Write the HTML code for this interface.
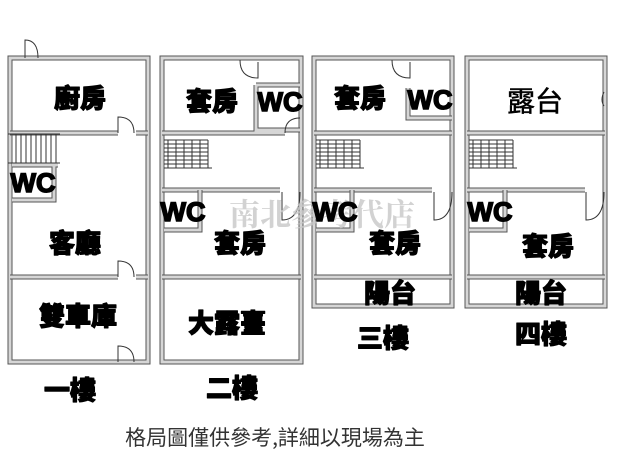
<!DOCTYPE html>
<html><head><meta charset="utf-8"><style>
html,body{margin:0;padding:0;background:#fff;}
svg{display:block;}
.w{fill:none;stroke:#555;stroke-width:5;}
.wi{fill:none;stroke:#d6d6d6;stroke-width:3;}
.t{font-family:"Noto Sans CJK TC","Liberation Sans",sans-serif;font-weight:900;fill:#000;stroke:#000;stroke-width:1.1;stroke-linejoin:round;text-anchor:middle;dominant-baseline:central;}
.wc{font-family:"Liberation Sans",sans-serif;font-weight:bold;fill:#000;stroke:#000;stroke-width:1.5;text-anchor:middle;dominant-baseline:central;font-size:27px;}
.st{stroke:#333;stroke-width:1;}
.d{fill:none;stroke:#333;stroke-width:1;}
</style></head><body>
<svg width="640" height="464" viewBox="0 0 640 464" xmlns="http://www.w3.org/2000/svg">
<g>
<rect class="w" x="10" y="58" width="138" height="304"/><rect class="wi" x="10" y="58" width="138" height="304"/>
<rect class="w" x="162" y="58" width="139" height="304"/><rect class="wi" x="162" y="58" width="139" height="304"/>
<rect class="w" x="314" y="58" width="138" height="248"/><rect class="wi" x="314" y="58" width="138" height="248"/>
<rect class="w" x="467" y="58" width="138" height="248"/><rect class="wi" x="467" y="58" width="138" height="248"/>
</g>
<g>
<path class="w" d="M10 133H118 M136 133H148 M10 277H118 M136 277H148"/>
<path class="wi" d="M10 133H118 M136 133H148 M10 277H118 M136 277H148"/>
<path class="w" d="M12 165H58 M12 200H54V165"/><path class="wi" d="M12 165H58 M12 200H54V165"/>
<path class="w" d="M162 133H285 M162 190H280 M162 277H301 M256 85V130H300 M256 85H300"/>
<path class="wi" d="M162 133H285 M162 190H280 M162 277H301 M256 85V130H300 M256 85H300"/>
<path class="w" d="M164 230H200V190"/><path class="wi" d="M164 230H200V190"/>
<path class="w" d="M314 133H452 M314 190H432 M314 277H452 M408 88V118H452"/>
<path class="wi" d="M314 133H452 M314 190H432 M314 277H452 M408 88V118H452"/>
<path class="w" d="M316 230H352V190"/><path class="wi" d="M316 230H352V190"/>
<path class="w" d="M467 133H605 M467 190H585 M467 277H605"/>
<path class="wi" d="M467 133H605 M467 190H585 M467 277H605"/>
<path class="w" d="M469 230H505V190"/><path class="wi" d="M469 230H505V190"/>
</g>
<path class="d" d="M25 58V40Q38 40 38 58 M118 133V117Q134 117 134 133 M118 277V261Q134 261 134 277 M118 362V346Q134 346 134 362"/>
<path class="d" d="M240 60Q240 78 258 78V62 M285 133Q285 118 300 118 M282 192V220Q300 220 300 192"/>
<path class="d" d="M392 60Q392 78 410 78V62 M434 192V220Q452 220 452 192"/>
<path class="d" d="M586 192V220Q604 220 604 192 M604 92Q600 100 604 106"/>
<g class="st">
<line x1="8" y1="134" x2="60" y2="134"/><line x1="8" y1="163" x2="60" y2="163"/>
<line x1="16" y1="134" x2="16" y2="163"/><line x1="21" y1="134" x2="21" y2="163"/><line x1="26" y1="134" x2="26" y2="163"/><line x1="31" y1="134" x2="31" y2="163"/><line x1="36" y1="134" x2="36" y2="163"/><line x1="41" y1="134" x2="41" y2="163"/><line x1="46" y1="134" x2="46" y2="163"/><line x1="51" y1="134" x2="51" y2="163"/><line x1="56" y1="134" x2="56" y2="163"/>
</g>
<g class="st" id="s2">
<line x1="164" y1="140" x2="208" y2="140"/><line x1="164" y1="144" x2="208" y2="144"/><line x1="164" y1="148" x2="208" y2="148"/><line x1="164" y1="152" x2="208" y2="152"/><line x1="164" y1="156" x2="208" y2="156"/><line x1="164" y1="160" x2="208" y2="160"/><line x1="164" y1="164" x2="208" y2="164"/><line x1="164" y1="168" x2="212" y2="168"/>
<line x1="208" y1="140" x2="208" y2="168"/><line x1="168" y1="140" x2="168" y2="168"/><line x1="176" y1="140" x2="176" y2="168"/><line x1="184" y1="140" x2="184" y2="168"/><line x1="192" y1="140" x2="192" y2="168"/><line x1="200" y1="140" x2="200" y2="168"/>
</g>
<use href="#s2" x="152"/>
<use href="#s2" x="305"/>
<text x="322" y="212" font-family="'Noto Serif CJK SC',serif" font-weight="bold" font-size="31" fill="#c8c8c8" text-anchor="middle" dominant-baseline="central" opacity="0.8">南北參考代店</text>
<text class="t" x="80" y="97" font-size="26">廚房</text>
<text class="wc" x="33" y="183">WC</text>
<text class="t" x="75" y="242" font-size="26">客廳</text>
<text class="t" x="78" y="315" font-size="26">雙車庫</text>
<text class="t" x="70" y="389" font-size="26">一樓</text>
<text class="t" x="212" y="100" font-size="26">套房</text>
<text class="wc" x="280" y="102">WC</text>
<text class="wc" x="183" y="212">WC</text>
<text class="t" x="240" y="242" font-size="26">套房</text>
<text class="t" x="227" y="322" font-size="26">大露臺</text>
<text class="t" x="232" y="387" font-size="26">二樓</text>
<text class="t" x="360" y="97" font-size="26">套房</text>
<text class="wc" x="430" y="100">WC</text>
<text class="wc" x="335" y="212">WC</text>
<text class="t" x="395" y="242" font-size="26">套房</text>
<text class="t" x="390" y="292" font-size="26">陽台</text>
<text class="t" x="383" y="337" font-size="26">三樓</text>
<text x="535" y="100" font-family="'Noto Sans CJK TC','Liberation Sans',sans-serif" font-size="28" text-anchor="middle" dominant-baseline="central" stroke="#000" stroke-width="0.5">露台</text>
<text class="wc" x="490" y="212">WC</text>
<text class="t" x="548" y="245" font-size="26">套房</text>
<text class="t" x="541" y="292" font-size="26">陽台</text>
<text class="t" x="541" y="333" font-size="26">四樓</text>
<text x="275" y="437" font-family="'Noto Sans CJK TC','Liberation Sans',sans-serif" font-size="21" fill="#333" text-anchor="middle" dominant-baseline="central">格局圖僅供參考,詳細以現場為主</text>
</svg>
</body></html>
